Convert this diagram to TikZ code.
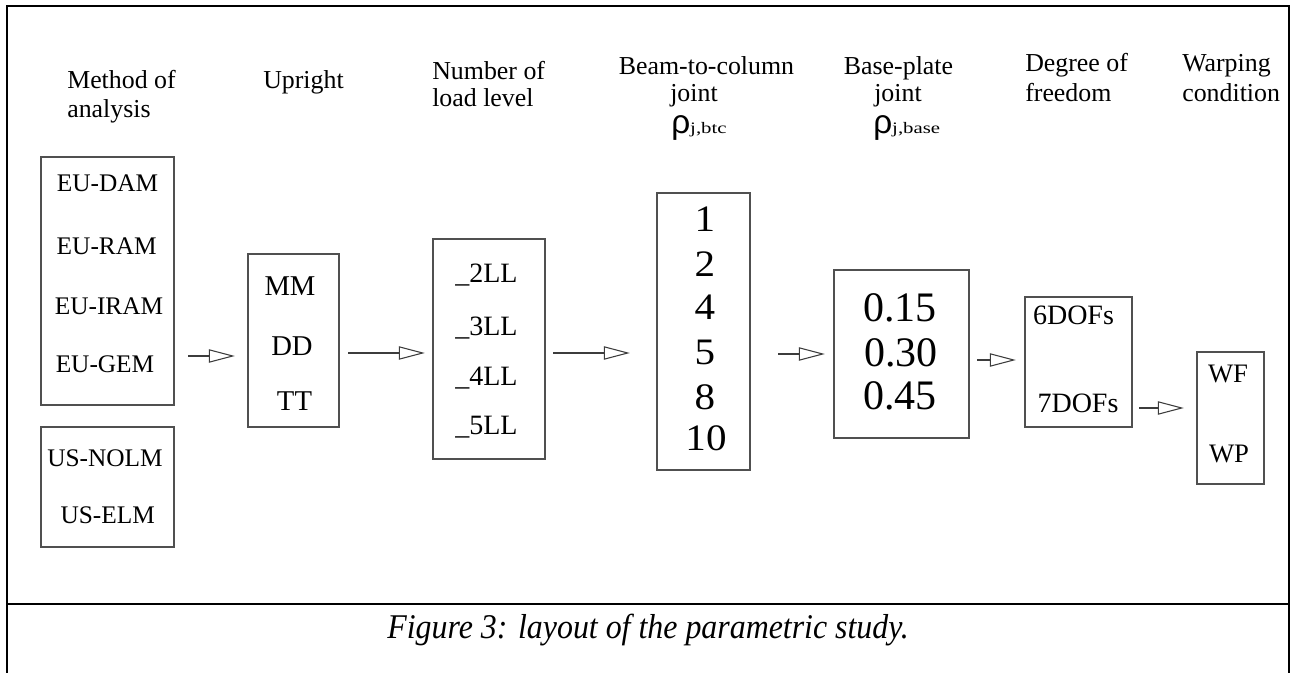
\documentclass[tikz,border=0pt]{standalone}
\usepackage{fontspec}
\usepackage{graphicx}
\setmainfont{Liberation Serif}
\newfontfamily\rhofont{Liberation Sans}
\usetikzlibrary{fit,arrows.meta}
\definecolor{boxline}{HTML}{505050}
\definecolor{flowline}{HTML}{3C3C3C}
\newcommand\txtsize[1]{\fontsize{#1}{#1}\selectfont}
\begin{document}
\begin{tikzpicture}[x=0.75pt,y=-0.75pt,
  box/.style={draw=boxline, line width=1.1pt, inner sep=0pt},
  head/.style={anchor=base west, inner sep=0pt, font=\txtsize{19.4}},
  headc/.style={anchor=base, inner sep=0pt, font=\txtsize{19.4}},
  item/.style={anchor=base, inner sep=0pt, font=\txtsize{#1}},
  itemw/.style={anchor=base west, inner sep=0pt, font=\txtsize{#1}},
  flow/.style={draw=flowline, line width=0.8pt,
    -{Triangle[open, length=19.5pt, width=10pt, line width=0.8pt]}},
  sub/.style={anchor=base west, inner sep=0pt}
]
\useasboundingbox (0,0) rectangle (1293,673);

% frame and caption rule
\draw[line width=1.1pt] (7,6) -- (1289,6) -- (1289,673);
\draw[line width=1.9pt] (7,5.5) -- (7,673);
\draw[line width=1.9pt] (7,6) -- (21,6);
\draw[line width=1.9pt] (7,604) -- (1289,604);

% column headings
\node[head] (h1a) at (67,89) {Method of};
\node[head] (h1b) at (67,118) {analysis};
\node[head] (h2) at (263,89) {Upright};
\node[head] (h3a) at (432,80) {Number of};
\node[head] (h3b) at (432,107) {load level};
\node[headc] (h4a) at (706.5,75) {Beam-to-column};
\node[head] (h4b) at (670,102) {joint};
\node[sub] (h4c) at (671,134) {{\rhofont\txtsize{25}ρ}\scalebox{1.3}[1]{\txtsize{12}j,btc}};
\node[headc] (h5a) at (898.5,75) {Base-plate};
\node[head] (h5b) at (874,102) {joint};
\node[sub] (h5c) at (873,134) {{\rhofont\txtsize{25}ρ}\scalebox{1.3}[1]{\txtsize{12}j,base}};
\node[head] (h6a) at (1025,72) {Degree of};
\node[head] (h6b) at (1025,102) {freedom};
\node[head] (h7a) at (1182,72) {Warping};
\node[head] (h7b) at (1182,102) {condition};

% boxes
\node[box, fit={(41,157) (174,405)}] (eu) {};
\node[box, fit={(41,427) (174,547)}] (us) {};
\node[box, fit={(248,254) (339,427)}] (up) {};
\node[box, fit={(433,239) (545,459)}] (ll) {};
\node[box, fit={(657,193) (750,470)}] (btc) {};
\node[box, fit={(834,270) (969,438)}] (base) {};
\node[box, fit={(1025,297) (1132,427)}] (dof) {};
\node[box, fit={(1197,352) (1264,484)}] (warp) {};

% method of analysis
\node[item=19] (m1) at (107.6,192) {EU-DAM};
\node[item=19] (m2) at (106.7,255) {EU-RAM};
\node[item=19] (m3) at (109,315) {EU-IRAM};
\node[item=19] (m4) at (105,373) {EU-GEM};
\node[item=19] (m5) at (105,467) {US-NOLM};
\node[item=19] (m6) at (107.7,523) {US-ELM};

% upright
\node[item=21.5] (u1) at (290,296) {MM};
\node[item=21.5] (u2) at (292,356) {DD};
\node[item=21.5] (u3) at (294.5,411) {TT};

% load levels
\node[itemw=21] (l1) at (455,283) {\_2LL};
\node[itemw=21] (l2) at (455,336) {\_3LL};
\node[itemw=21] (l3) at (455,386) {\_4LL};
\node[itemw=21] (l4) at (455,435) {\_5LL};

% beam-to-column stiffness
\node[item=28, xscale=1.1] (b1) at (705,232) {1};
\node[item=28, xscale=1.1] (b2) at (705,277) {2};
\node[item=28, xscale=1.1] (b3) at (705,320) {4};
\node[item=28, xscale=1.1] (b4) at (705,365) {5};
\node[item=28, xscale=1.1] (b5) at (705,410) {8};
\node[item=28, xscale=1.1] (b6) at (706,451) {10};

% base-plate stiffness
\node[item=31.5] (p1) at (900,322) {0.15};
\node[item=31.5] (p2) at (901,367) {0.30};
\node[item=31.5] (p3) at (900,410) {0.45};

% degrees of freedom
\node[item=21] (d1) at (1073.5,325) {6DOFs};
\node[item=21] (d2) at (1078,413) {7DOFs};

% warping
\node[item=20] (w1) at (1228,383) {WF};
\node[item=20] (w2) at (1229,463) {WP};

% flow arrows
\draw[flow, shorten <=10pt, shorten >=9.3pt] (eu.east |- 0,356) -- (up.west |- 0,356);
\draw[flow, shorten <=6.3pt, shorten >=5.6pt] (up.east |- 0,353) -- (ll.west |- 0,353);
\draw[flow, shorten <=5.6pt, shorten >=19.8pt] (ll.east |- 0,353) -- (btc.west |- 0,353);
\draw[flow, shorten <=20.5pt, shorten >=6.3pt] (btc.east |- 0,354) -- (base.west |- 0,354);
\draw[flow, shorten <=5.6pt, shorten >=6.3pt] (base.east |- 0,360) -- (dof.west |- 0,360);
\draw[flow, shorten <=4.8pt, shorten >=9.3pt] (dof.east |- 0,408) -- (warp.west |- 0,408);

% caption
\node[anchor=base, inner sep=0pt, xscale=0.92, font=\txtsize{26}\itshape] (caption) at (648,638) {Figure 3: layout of the parametric study.};
\end{tikzpicture}
\end{document}
